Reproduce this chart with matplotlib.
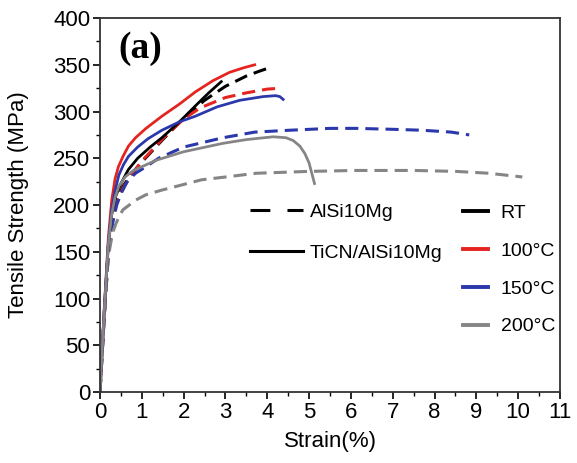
import matplotlib
matplotlib.use("Agg")
import matplotlib.pyplot as plt
from matplotlib.lines import Line2D
from matplotlib.ticker import MultipleLocator

plt.rcParams['font.family'] = ['Liberation Sans', 'DejaVu Sans']

# TiCN/AlSi10Mg (solid) curves: strain (%) / tensile strength (MPa)
ticn_rt_x = [0, 0.1, 0.2, 0.28, 0.38, 0.5, 0.68, 0.9, 1.2, 1.48, 1.9, 2.28, 2.6, 2.9]
ticn_rt_y = [0, 85, 158, 190, 210, 223, 238, 250, 262, 272, 289, 306, 320, 332]
ticn_100_x = [0, 0.1, 0.2, 0.28, 0.36, 0.44, 0.55, 0.68, 0.85, 1.1, 1.48, 1.9, 2.28, 2.7, 3.1, 3.45, 3.7]
ticn_100_y = [0, 88, 165, 205, 228, 241, 252, 263, 272, 282, 295, 308, 321, 333, 342, 347, 350]
ticn_150_x = [0, 0.1, 0.2, 0.28, 0.36, 0.45, 0.56, 0.68, 0.9, 1.15, 1.48, 1.9, 2.28, 2.8, 3.34, 3.9, 4.2, 4.3, 4.38]
ticn_150_y = [0, 86, 160, 195, 215, 232, 243, 252, 262, 271, 280, 289, 295, 305, 312, 316, 317, 316, 313]
ticn_200_x = [0, 0.1, 0.2, 0.28, 0.36, 0.45, 0.6, 0.8, 1.0, 1.35, 2.0, 2.94, 3.5, 4.14, 4.45, 4.62, 4.78, 4.9, 5.0, 5.13]
ticn_200_y = [0, 85, 158, 190, 208, 220, 230, 237, 241, 248, 257, 266, 270, 273, 272, 269, 263, 255, 245, 223]

# AlSi10Mg (dashed) curves
al_rt_x = [0, 0.1, 0.2, 0.3, 0.4, 0.55, 0.75, 1.0, 1.5, 2.0, 2.5, 3.0, 3.5, 3.8, 4.06]
al_rt_y = [0, 80, 150, 185, 205, 220, 233, 246, 270, 293, 312, 327, 338, 343, 347]
al_100_x = [0, 0.1, 0.2, 0.3, 0.4, 0.55, 0.75, 1.0, 1.5, 2.0, 2.4, 3.0, 3.5, 4.0, 4.34]
al_100_y = [0, 80, 150, 185, 203, 218, 232, 247, 271, 292, 304, 315, 320, 324, 325]
al_150_x = [0, 0.1, 0.2, 0.3, 0.4, 0.5, 0.65, 0.85, 1.1, 1.4, 2.0, 2.94, 3.7, 4.53, 5.5, 6.13, 7.0, 7.71, 8.4, 8.83]
al_150_y = [0, 80, 148, 180, 200, 212, 225, 234, 241, 250, 262, 272, 278, 280, 282, 282, 281, 280, 278, 275]
al_200_x = [0, 0.1, 0.2, 0.3, 0.38, 0.45, 0.55, 0.7, 0.84, 1.1, 1.48, 2.0, 2.43, 3.0, 3.74, 5.0, 6.13, 7.5, 8.51, 9.3, 10.1]
al_200_y = [0, 80, 145, 170, 180, 187, 195, 200, 205, 211, 216, 222, 227, 230, 234, 236, 237, 237, 236, 234, 230]

temps = ['RT', '100°C', '150°C', '200°C']
colors = ['black', '#e52420', '#2b38ab', '#858585']

fig = plt.figure(figsize=(5.77, 4.63), dpi=100)
ax = fig.add_axes([0.1733, 0.1533, 0.7972, 0.8077])

lw = 2.2
dash = (4.3, 2.3)

# dashed first, solid on top
al_curves = [(al_rt_x, al_rt_y), (al_100_x, al_100_y), (al_150_x, al_150_y), (al_200_x, al_200_y)]
ticn_curves = [(ticn_rt_x, ticn_rt_y), (ticn_100_x, ticn_100_y), (ticn_150_x, ticn_150_y), (ticn_200_x, ticn_200_y)]
for (x, y), c in zip(al_curves, colors):
    ax.plot(x, y, color=c, lw=lw, dashes=dash, solid_capstyle='butt', solid_joinstyle='round')
for (x, y), c in zip(ticn_curves, colors):
    ax.plot(x, y, color=c, lw=lw * 0.9, solid_joinstyle='round')

ax.set_xlim(0, 11)
ax.set_ylim(0, 400)
ax.xaxis.set_major_locator(MultipleLocator(1))
ax.xaxis.set_minor_locator(MultipleLocator(0.5))
ax.yaxis.set_major_locator(MultipleLocator(50))
ax.yaxis.set_minor_locator(MultipleLocator(25))
ax.tick_params(which='major', direction='out', length=5, width=1.2, labelsize=16, pad=2)
ax.tick_params(which='minor', direction='out', length=3, width=1.0)
for s in ax.spines.values():
    s.set_linewidth(1.3)
    s.set_color('#333333')

ax.set_xlabel('Strain(%)', fontsize=16, labelpad=6)
ax.set_ylabel('Tensile Strength (MPa)', fontsize=16, labelpad=17)

ax.text(0.04, 0.965, '(a)', transform=ax.transAxes, fontsize=27, fontweight='bold',
        family='Liberation Serif', va='top', ha='left')

# material legend
mat_handles = [Line2D([], [], color='black', lw=lw, dashes=(6.5, 5.6)),
               Line2D([], [], color='black', lw=lw)]
leg1 = ax.legend(mat_handles, ['AlSi10Mg', 'TiCN/AlSi10Mg'], loc='upper left',
                 bbox_to_anchor=(0.326, 0.505), frameon=False, fontsize=14,
                 handlelength=2.73, handletextpad=0.36, labelspacing=1.2,
                 borderaxespad=0, borderpad=0)
ax.add_artist(leg1)

# temperature legend
temp_handles = [Line2D([], [], color=c, lw=lw + 0.6) for c in colors]
ax.legend(temp_handles, temps, loc='upper left', bbox_to_anchor=(0.79, 0.502),
          frameon=False, fontsize=14, handlelength=1.29, handletextpad=0.62,
          labelspacing=1.04, borderaxespad=0, borderpad=0)

fig.savefig('out.png', dpi=100)
